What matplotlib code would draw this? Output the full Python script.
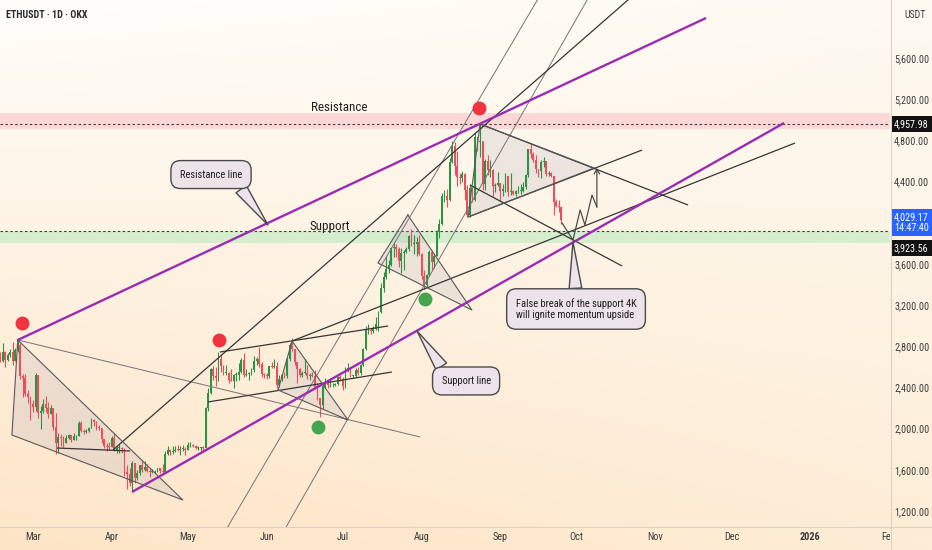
import numpy as np
import pandas as pd
import matplotlib
matplotlib.use("Agg")
import matplotlib.pyplot as plt
from matplotlib import font_manager
from matplotlib.font_manager import FontProperties
from matplotlib.transforms import blended_transform_factory, Bbox, TransformedBbox
from matplotlib.patches import Polygon
from matplotlib.lines import Line2D
from matplotlib.ticker import FuncFormatter

# ---------------------------------------------------------------- fonts
_cands = []
for f in font_manager.fontManager.ttflist:
    fn = f.fname.lower()
    if ('condensed' in fn or 'narrow' in fn) and 'bold' not in fn and 'italic' not in fn \
            and 'oblique' not in fn and 'light' not in fn:
        rank = 0 if 'liberation' in fn else 1 if 'roboto' in fn else 2 if 'dejavusans' in fn else 3
        _cands.append((rank, f.fname))
_cands.sort()
if _cands:
    FP = FontProperties(fname=_cands[0][1])
    FAM = FP.get_name()
    font_manager.fontManager.addfont(_cands[0][1])
else:
    FAM = 'DejaVu Sans'
plt.rcParams['font.family'] = [FAM, 'DejaVu Sans']

# ---------------------------------------------------------------- data (ETHUSDT 1D, OKX)
CANDLE_START = '2025-02-16'
FIRST_OPEN = 2725
close = [
    # Feb 16-28
    2660, 2745, 2670, 2715, 2740, 2660, 2765, 2815, 2515, 2490, 2335, 2305, 2235,
    # Mar
    2215, 2520, 2150, 2170, 2240, 2200, 2140, 2200, 2020, 1865, 1920, 1910, 1865, 1910, 1935, 1890,
    1925, 1930, 2055, 1980, 1965, 1980, 2010, 2080, 2065, 2010, 2005, 1895, 1830, 1825, 1820,
    # Apr
    1905, 1795, 1815, 1815, 1805, 1580, 1555, 1475, 1670, 1525, 1570, 1645, 1595, 1625, 1585,
    1575, 1585, 1590, 1615, 1585, 1580, 1755, 1795, 1770, 1785, 1795, 1790, 1800, 1800, 1795,
    # May
    1840, 1840, 1835, 1810, 1815, 1815, 1810, 2205, 2345, 2580, 2515, 2495, 2680, 2610, 2540, 2545,
    2475, 2465, 2525, 2525, 2550, 2665, 2525, 2535, 2545, 2565, 2660, 2680, 2630, 2530, 2525,
    # Jun
    2510, 2605, 2595, 2610, 2420, 2480, 2525, 2510, 2680, 2815, 2770, 2645, 2580, 2525, 2545,
    2545, 2510, 2525, 2515, 2405, 2295, 2230, 2410, 2450, 2420, 2420, 2425, 2435, 2500, 2485,
    # Jul
    2410, 2570, 2590, 2510, 2515, 2570, 2540, 2615, 2770, 2955, 2955, 2945, 2970, 3015, 3135, 3370,
    3475, 3550, 3590, 3755, 3760, 3745, 3625, 3710, 3715, 3745, 3875, 3795, 3795, 3810, 3700,
    # Aug
    3485, 3395, 3495, 3715, 3615, 3680, 3910, 3985, 4255, 4260, 4225, 4590, 4750, 4550, 4440, 4430,
    4475, 4315, 4080, 4340, 4225, 4830, 4780, 4790, 4380, 4600, 4510, 4510, 4360, 4370, 4390,
    # Sep 1-25
    4305, 4330, 4450, 4295, 4305, 4275, 4305, 4310, 4310, 4350, 4460, 4715, 4665, 4605, 4520,
    4500, 4590, 4595, 4470, 4480, 4450, 4200, 4165, 4150, 4029.17,
]
high = [
    2745, 2830, 2755, 2730, 2770, 2845, 2780, 2855, 2830, 2530, 2530, 2375, 2320,
    2280, 2545, 2525, 2220, 2285, 2320, 2260, 2225, 2205, 2150, 1960, 1950, 1925, 1935, 1945, 1940,
    1960, 1940, 2070, 2070, 1995, 1995, 2020, 2105, 2095, 2070, 2040, 2010, 1900, 1860, 1870,
    1925, 1955, 1830, 1860, 1825, 1815, 1645, 1620, 1690, 1670, 1595, 1650, 1690, 1690, 1660,
    1610, 1610, 1600, 1620, 1620, 1660, 1785, 1830, 1800, 1830, 1830, 1845, 1830, 1845, 1820,
    1870, 1870, 1850, 1845, 1830, 1825, 1835, 2215, 2390, 2590, 2610, 2600, 2740, 2725, 2620, 2620,
    2550, 2575, 2530, 2550, 2635, 2690, 2735, 2575, 2550, 2585, 2710, 2700, 2790, 2645, 2545,
    2545, 2610, 2650, 2680, 2645, 2520, 2535, 2550, 2690, 2830, 2880, 2775, 2645, 2590, 2560,
    2680, 2615, 2545, 2550, 2565, 2445, 2300, 2420, 2495, 2470, 2485, 2445, 2445, 2515, 2525,
    2500, 2595, 2635, 2595, 2525, 2585, 2600, 2625, 2785, 2995, 3015, 2975, 3000, 3080, 3145, 3410,
    3525, 3675, 3640, 3765, 3810, 3790, 3760, 3750, 3735, 3760, 3880, 3940, 3880, 3860, 3880,
    3710, 3545, 3505, 3735, 3730, 3700, 3925, 4035, 4290, 4320, 4330, 4630, 4790, 4785, 4700, 4480,
    4500, 4480, 4370, 4380, 4350, 4880, 4800, 4956, 4790, 4615, 4660, 4610, 4520, 4390, 4490,
    4390, 4380, 4485, 4450, 4480, 4320, 4320, 4360, 4380, 4400, 4470, 4720, 4770, 4685, 4655,
    4525, 4605, 4640, 4600, 4500, 4490, 4450, 4230, 4220, 4165,
]
low = [
    2650, 2650, 2600, 2660, 2700, 2620, 2655, 2740, 2480, 2310, 2320, 2250, 2080,
    2160, 2170, 2105, 1995, 2150, 2160, 2100, 2140, 1990, 1755, 1760, 1835, 1820, 1860, 1900, 1870,
    1885, 1885, 1925, 1965, 1945, 1960, 1970, 2005, 2030, 1985, 1990, 1860, 1810, 1780, 1795,
    1820, 1780, 1760, 1765, 1765, 1540, 1410, 1445, 1385, 1470, 1505, 1545, 1575, 1590, 1575,
    1535, 1565, 1570, 1580, 1565, 1570, 1575, 1745, 1740, 1755, 1775, 1780, 1745, 1785, 1745,
    1790, 1825, 1820, 1800, 1790, 1780, 1785, 1810, 2175, 2340, 2475, 2415, 2460, 2550, 2520, 2520,
    2440, 2460, 2390, 2460, 2470, 2545, 2500, 2515, 2470, 2525, 2550, 2615, 2600, 2500, 2490,
    2480, 2490, 2585, 2590, 2390, 2400, 2465, 2490, 2490, 2660, 2750, 2620, 2440, 2500, 2500,
    2530, 2480, 2470, 2500, 2390, 2280, 2110, 2195, 2390, 2390, 2405, 2400, 2410, 2425, 2465,
    2380, 2395, 2550, 2500, 2495, 2505, 2520, 2525, 2610, 2760, 2920, 2915, 2930, 2955, 2945, 3120,
    3330, 3455, 3515, 3575, 3670, 3665, 3570, 3515, 3540, 3705, 3725, 3770, 3700, 3680, 3685,
    3455, 3355, 3375, 3485, 3540, 3560, 3675, 3850, 3980, 4200, 4150, 4215, 4580, 4460, 4360, 4375,
    4400, 4220, 4060, 4060, 4205, 4210, 4700, 4640, 4320, 4320, 4460, 4445, 4260, 4295, 4355,
    4210, 4255, 4300, 4260, 4270, 4265, 4260, 4290, 4280, 4300, 4330, 4440, 4630, 4590, 4480,
    4440, 4430, 4545, 4450, 4455, 4440, 4080, 4150, 4105, 3990,
]

# month axis
month_labels = ['Mar', 'Apr', 'May', 'Jun', 'Jul', 'Aug', 'Sep', 'Oct', 'Nov', 'Dec', '2026', 'Feb']
month_dates = ['2025-03-01', '2025-04-01', '2025-05-01', '2025-06-01', '2025-07-01', '2025-08-01',
               '2025-09-01', '2025-10-01', '2025-11-01', '2025-12-01', '2026-01-01', '2026-02-01']
price_ticks = [1200, 1600, 2000, 2400, 2800, 3200, 3600, 4400, 4800, 5200, 5600]

# horizontal levels
resistance_level = 4957.98
resistance_band = (4910, 5066)
support_level = 3923.56
support_band = (3800, 3923.56)
last_price = 4029.17
countdown = '14:47:40'

# drawings (date, price)
purple_upper = [('2025-02-23', 2861), ('2025-11-21', 5989)]
purple_lower = [('2025-04-09', 1385), ('2025-12-21 17:00', 4969)]
black_lines = [
    [('2025-04-01 12:00', 1793), ('2025-10-27', 6288)],              # long rising line
    [('2025-06-11', 2851), ('2025-12-26', 4774)],                    # Jun peak -> Aug low line
    [('2025-05-13 14:00', 2744), ('2025-07-18 19:00', 2997)],        # range top
    [('2025-05-08 22:00', 2259), ('2025-07-20 07:00', 2550)],        # range bottom
    [('2025-03-10 10:00', 1812), ('2025-04-08 05:00', 1783)],        # March base
    [('2025-08-24', 4959), ('2025-11-13 22:00', 4172)],              # triangle top
    [('2025-08-19 07:00', 4056), ('2025-10-26 19:00', 4706)],        # triangle bottom
    [('2025-08-20', 4367), ('2025-10-18 22:00', 3580)],              # falling line
]
gray_lines = [
    [('2025-02-23', 2861), ('2025-07-31 10:00', 1919)],
    [('2025-05-09', 724), ('2025-09-22 12:00', 6455)],
    [('2025-06-01 05:00', 724), ('2025-10-11 22:00', 6455)],
]
shaded_triangles = [
    [('2025-02-23', 2861), ('2025-02-20 17:00', 1938), ('2025-04-29', 1307)],
    [('2025-06-05 12:00', 2375), ('2025-06-11', 2851), ('2025-07-03', 2084)],
    [('2025-07-26 14:00', 4075), ('2025-07-14 19:00', 3609), ('2025-08-20 19:00', 3152)],
    [('2025-08-24', 4959), ('2025-10-07 22:00', 4532), ('2025-08-19 07:00', 4056)],
]
zigzag = [('2025-09-25 07:00', 3997), ('2025-09-29 14:00', 3832), ('2025-10-02 10:00', 4124),
          ('2025-10-04 07:00', 3978), ('2025-10-07 02:00', 4269), ('2025-10-09', 4153),
          ('2025-10-09', 4532)]
red_dots = [('2025-02-24 17:00', 3026), ('2025-05-13 05:00', 2861), ('2025-08-23 14:00', 5114)]
green_dots = [('2025-06-21 05:00', 2016), ('2025-08-02 07:00', 3259)]
callouts = [
    ('Resistance line', ('2025-06-01 12:00', 3978), ('2025-05-10 02:00', 4468), (0.86, 0.08)),
    ('Support line', ('2025-07-30 05:00', 2948), ('2025-08-18 12:00', 2463), (0.14, 0.92)),
    ('False break of the support 4K\nwill ignite momentum upside', ('2025-09-29 14:00', 3813),
     ('2025-09-30 19:00', 3162), (0.5, 0.95)),
]
level_texts = [('Resistance', '2025-06-29 12:00', 5124), ('Support', '2025-06-26', 3959)]

# ---------------------------------------------------------------- helpers
BASE = pd.Timestamp('2025-03-01')


def D(s):
    return (pd.Timestamp(s) - BASE) / pd.Timedelta('1D')


def xy(points):
    return [D(p[0]) for p in points], [p[1] for p in points]


# ---------------------------------------------------------------- figure
W, H = 932, 550
fig = plt.figure(figsize=(W / 100, H / 100), dpi=100)

# warm background gradient
bg = fig.add_axes([0, 0, 1, 1], zorder=-10)
yy = np.linspace(0, 1, H)[:, None]
xx = np.linspace(0, 1, W)[None, :]
TL = np.array([255, 254, 250]) / 255
TR = np.array([254, 250, 242]) / 255
BL = np.array([253, 228, 198]) / 255
BR = np.array([253, 237, 214]) / 255
wtl = ((1 - xx) * (1 - yy))[..., None]
wtr = (xx * (1 - yy))[..., None]
wbl = ((1 - xx) * yy)[..., None]
wbr = (xx * yy)[..., None]
img = TL * wtl + TR * wtr + BL * wbl + BR * wbr
bg.imshow(img, aspect='auto', extent=(0, 1, 0, 1), origin='upper')
bg.set_axis_off()

AX_L, AX_B, AX_W, AX_H = 0, 23 / H, 890 / W, 527 / H
ax = fig.add_axes([AX_L, AX_B, AX_W, AX_H])
ax.set_facecolor('none')
ax.set_xlim(-12.99, 337.4)
ax.set_ylim(1044.6, 6163.5)
for s in ax.spines.values():
    s.set_visible(False)
ax.set_xticks([])
ax.yaxis.tick_right()
ax.set_yticks(price_ticks)
ax.yaxis.set_major_formatter(FuncFormatter(lambda v, p: f'{v:,.2f}'))
ax.tick_params(axis='y', length=0, pad=3, labelsize=7.3, labelcolor='#3b3b3b')

# bands and levels
ax.axhspan(*resistance_band, color='#fbd8d6', zorder=1, lw=0)
ax.axhspan(*support_band, color='#d6eecd', zorder=1, lw=0)
for lvl in (resistance_level, support_level):
    ax.axhline(lvl, color='#3c3c3c', lw=0.8, ls=(0, (2.2, 2.2)), zorder=1.5)

# shaded triangles
for tri in shaded_triangles:
    tx, ty = xy(tri)
    ax.add_patch(Polygon(list(zip(tx, ty)), closed=True, fc='#aaa2b4', alpha=0.2, ec='none', zorder=2))

# candles
c = np.array(close, float)
h = np.array(high, float)
l = np.array(low, float)
assert len(c) == len(h) == len(l)
o = np.r_[FIRST_OPEN, c[:-1]]
h = np.maximum(h, np.maximum(o, c))
l = np.minimum(l, np.minimum(o, c))
dates = pd.date_range(CANDLE_START, periods=len(c), freq='D')
cx = np.array((dates - BASE).days, float)
up = c >= o
UP, DN = '#2a9444', '#ee4d5b'
cols = np.where(up, UP, DN)
ax.vlines(cx, l, h, colors=cols, lw=0.8, zorder=3)
ax.bar(cx, np.maximum(np.abs(c - o), 8), bottom=np.minimum(o, c), width=0.72,
       color=cols, lw=0, zorder=3.1)

# trend lines
for seg in gray_lines:
    sx, sy = xy(seg)
    ax.plot(sx, sy, color='#737373', lw=0.7, zorder=4, solid_capstyle='butt')
for seg in black_lines:
    sx, sy = xy(seg)
    ax.plot(sx, sy, color='#363636', lw=0.9, zorder=4, solid_capstyle='butt')
for tri in shaded_triangles:
    tx, ty = xy(tri)
    ax.plot(tx + tx[:1], ty + ty[:1], color='#595959', lw=0.8, zorder=4)
for seg in (purple_upper, purple_lower):
    sx, sy = xy(seg)
    ax.plot(sx, sy, color='#9b2bb5', lw=1.7, zorder=4.5, solid_capstyle='butt')

# projected path
zx, zy = xy(zigzag)
ax.plot(zx[:-1], zy[:-1], color='#454545', lw=0.85, zorder=4.6)
ax.annotate('', xy=(zx[-1], zy[-1]), xytext=(zx[-2], zy[-2]), zorder=4.6,
            arrowprops=dict(arrowstyle='->,head_length=0.35,head_width=0.2', color='#454545',
                            lw=0.85, shrinkA=0, shrinkB=0))

# pivots
rx, ry = xy(red_dots)
ax.plot(rx, ry, 'o', ms=10, color='#ef3340', mec='none', zorder=5)
gx, gy = xy(green_dots)
ax.plot(gx, gy, 'o', ms=10, color='#45a54e', mec='none', zorder=5)

# level names
for txt, d, p in level_texts:
    ax.text(D(d), p, txt, ha='center', va='center', fontsize=9.4, color='#222222', zorder=6)

# callouts
BOX_FC, BOX_EC = '#ece4ea', '#4a4a4a'
for txt, tip, center, rel in callouts:
    ax.annotate(txt, xy=(D(tip[0]), tip[1]), xytext=(D(center[0]), center[1]), textcoords='data',
                ha='center', va='center', ma='left', fontsize=7.6, color='#1f1f1f', zorder=7,
                bbox=dict(boxstyle='round,pad=0.85,rounding_size=0.9', fc=BOX_FC, ec=BOX_EC, lw=1.0),
                arrowprops=dict(arrowstyle='wedge,tail_width=1.2,shrink_factor=0.5', fc=BOX_FC,
                                ec=BOX_EC, lw=1.0, relpos=rel, shrinkA=0, shrinkB=0))

# price-scale labels
bt = blended_transform_factory(ax.transAxes, ax.transData)
x_lab = 1 + 4 / 890
ax.text(x_lab, resistance_level, f'{resistance_level:,.2f}', transform=bt, ha='left', va='center',
        fontsize=7.3, color='white', zorder=9, clip_on=False,
        bbox=dict(boxstyle='square,pad=0.3', fc='#121212', ec='none'))
ax.text(x_lab, last_price - 27, f'{last_price:,.2f}\n{countdown}', transform=bt, ha='left', va='center',
        fontsize=7.3, color='white', zorder=9, clip_on=False, linespacing=1.1,
        bbox=dict(boxstyle='square,pad=0.3', fc='#2962ff', ec='none'))
ax.text(x_lab, support_level - 168, f'{support_level:,.2f}', transform=bt, ha='left', va='center',
        fontsize=7.3, color='white', zorder=9, clip_on=False,
        bbox=dict(boxstyle='square,pad=0.3', fc='#121212', ec='none'))

# month labels (clipped at the price scale)
clip = TransformedBbox(Bbox.from_extents(0, 0, 890 / W, 1), fig.transFigure)
mt = blended_transform_factory(ax.transData, fig.transFigure)
for lab, d in zip(month_labels, month_dates):
    t = ax.text(D(d), (H - 537) / H, lab, transform=mt, ha='center', va='center', fontsize=7.4,
                color='#3b3b3b', fontweight='bold' if lab.isdigit() else 'normal')
    t.set_clip_on(True)
    t.set_clip_box(clip)

# separators, header
fig.add_artist(Line2D([890.5 / W, 890.5 / W], [0, 1], color='#d9d2c6', lw=0.8))
fig.add_artist(Line2D([0, 1], [AX_B, AX_B], color='#d9d2c6', lw=0.8))
fig.text(6 / W, 1 - 15 / H, 'ETHUSDT · 1D · OKX', fontsize=7.2, fontweight='bold', color='#2b2b2b',
         ha='left', va='center')
fig.text(904 / W, 1 - 15 / H, 'USDT', fontsize=7.0, color='#3b3b3b', ha='left', va='center')

fig.savefig('out.png', dpi=100)
